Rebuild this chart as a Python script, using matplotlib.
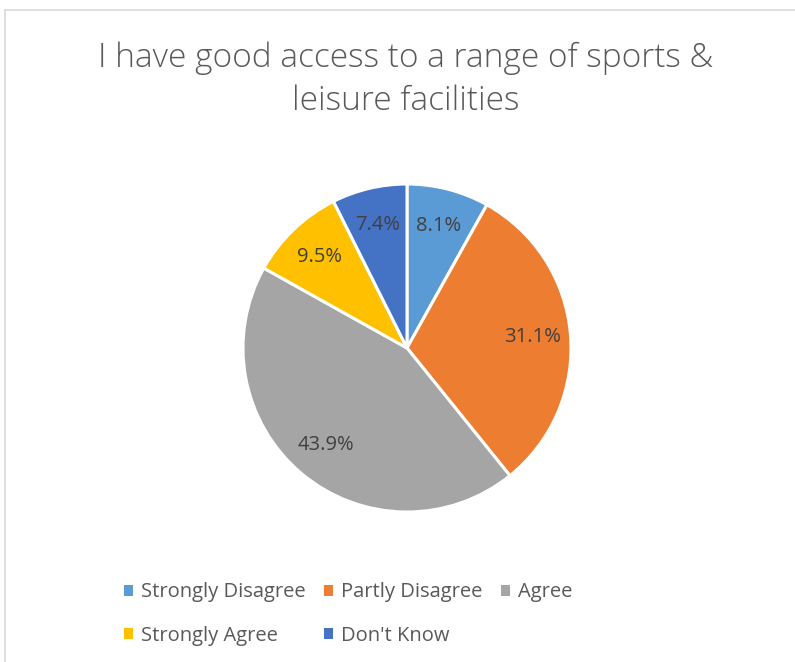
import matplotlib.pyplot as plt
from matplotlib.patches import Rectangle

# Survey responses (percent)
categories = ['Strongly Disagree', 'Partly Disagree', 'Agree', 'Strongly Agree', "Don't Know"]
values = [8.1, 31.1, 43.9, 9.5, 7.4]
colors = ['#5b9bd5', '#ed7d31', '#a5a5a5', '#ffc000', '#4472c4']
title = 'I have good access to a range of sports &\nleisure facilities'

plt.rcParams['font.family'] = ['Open Sans', 'DejaVu Sans']

W, H = 795, 662
fig = plt.figure(figsize=(W / 100, H / 100), dpi=100)

# light chart border like the Excel chart area
fig.patches.append(Rectangle((5 / W, -0.05), 1.1, 1 - 10 / H + 0.05,
                             transform=fig.transFigure, fill=False,
                             edgecolor='#d9d9d9', linewidth=1.2))

# pie centred at (407, 348) px with radius ~164 px
cx, cy, r = 407, 348, 164
ax = fig.add_axes([(cx - r) / W, (H - cy - r) / H, 2 * r / W, 2 * r / H])
wedges, texts, autotexts = ax.pie(values, colors=colors, startangle=90, counterclock=False,
                                  autopct='%.1f%%', pctdistance=0.77,
                                  wedgeprops=dict(edgecolor='white', linewidth=2.2),
                                  textprops=dict(color='#404040', fontsize=14.5))
ax.set_xlim(-1, 1)
ax.set_ylim(-1, 1)
ax.set_aspect('equal')

fig.text(0.51, 1 - 80 / H, title, ha='center', va='center', fontsize=24,
         fontweight='light', color='#595959', linespacing=1.38)

# legend ordered so rows read left to right
order = [0, 3, 1, 4, 2]
leg = fig.legend([wedges[i] for i in order], [categories[i] for i in order],
                 ncol=3, loc='center left', bbox_to_anchor=(114 / W, 1 - 614 / H),
                 frameon=False, fontsize=14.5, handlelength=0.45, handleheight=0.45,
                 handletextpad=0.4, columnspacing=0.9, labelspacing=1.15,
                 borderpad=0, labelcolor='#595959')
for h in leg.legend_handles:
    h.set_edgecolor('none')

fig.savefig('out.png', dpi=100)
